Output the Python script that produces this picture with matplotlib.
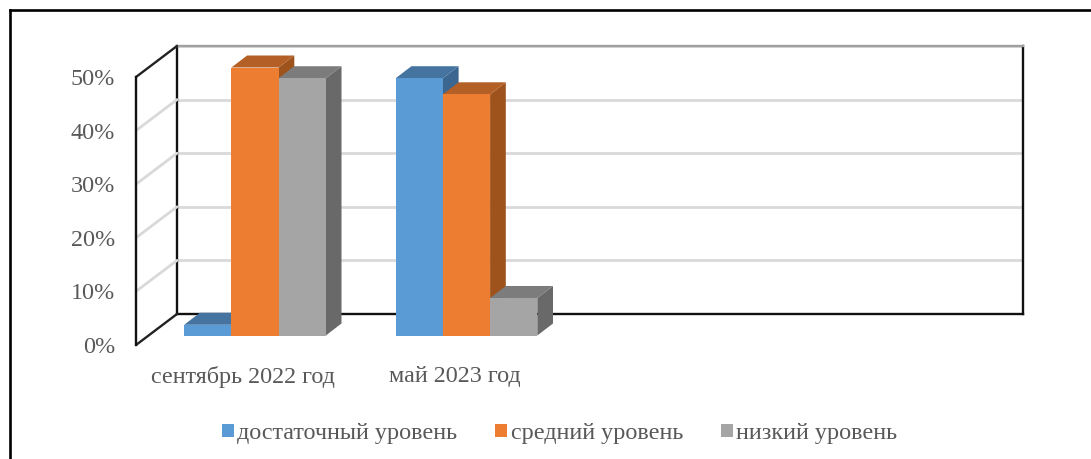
import matplotlib
matplotlib.use("Agg")
import matplotlib.pyplot as plt
from matplotlib.patches import Polygon, Patch
from matplotlib.lines import Line2D

categories = ["сентябрь 2022 год", "май 2023 год"]
series_names = ["достаточный уровень", "средний уровень", "низкий уровень"]
dostatochny = [2, 48]
sredny = [50, 45]
nizky = [48, 7]
y_ticks = [0, 10, 20, 30, 40, 50]

front_colors = ["#5B9BD5", "#ED7D31", "#A5A5A5"]
top_colors = ["#44749F", "#B45F25", "#7C7C7C"]
side_colors = ["#3A6690", "#9E521C", "#696969"]
TEXT = "#595959"

W, H = 1091, 459
plt.rcParams["font.family"] = ["Liberation Serif", "DejaVu Serif"]
fig = plt.figure(figsize=(W / 100, H / 100), dpi=100)


def make_axes(left, right, top, bottom):
    ax = fig.add_axes([left / W, 1 - bottom / H, (right - left) / W, (bottom - top) / H])
    ax.patch.set_alpha(0)
    return ax


# Outer picture frame
fig.add_artist(Line2D([10 / W, 10 / W], [0, 1 - 10 / H], color="black", lw=1.9))
fig.add_artist(Line2D([10 / W, 1], [1 - 10 / H, 1 - 10 / H], color="black", lw=1.9))

# Back wall
back = make_axes(177, 1023, 46, 314)
back.set_xlim(0, 1)
back.set_ylim(0, 50)
back.set_xticks([])
back.set_yticks(y_ticks)
back.tick_params(left=False, labelleft=False)
back.grid(axis="y", color="#D9D9D9", lw=2)
back.set_axisbelow(True)
for name in ["left", "bottom", "right"]:
    back.spines[name].set_color("#111111")
    back.spines[name].set_linewidth(1.7)
back.spines["top"].set_color("#A0A0A0")
back.spines["top"].set_linewidth(1.7)

# Side wall with the value axis on its front edge
side = make_axes(136, 177, 77, 345)
side.set_xlim(0, 1)
side.set_ylim(0, 50)
side.set_xticks([])
side.set_yticks(y_ticks)
side.set_yticklabels([f"{v}%" for v in y_ticks], fontsize=17.4, color=TEXT)
side.tick_params(axis="y", length=0, pad=15)
for name in ["top", "bottom", "right"]:
    side.spines[name].set_visible(False)
side.spines["left"].set_color("#111111")
side.spines["left"].set_linewidth(1.7)
rise = 31 / (268 / 50)
for v in y_ticks:
    edge = v in (y_ticks[0], y_ticks[-1])
    side.plot([0, 1], [v, v + rise], clip_on=False, solid_capstyle="round",
              color="#222222" if edge else "#D9D9D9", lw=1.7 if edge else 2)

# Bars
bars = make_axes(136, 1023, 67.5, 335.5)
px_per_group = 211.5
bars.set_xlim(-119 / px_per_group, (1023 - 255) / px_per_group)
bars.set_ylim(0, 50)
bars.axis("off")
bar_w = 47.2 / px_per_group
dx = 15.7 / px_per_group
dy = 12 / (268 / 50)
series = [dostatochny, sredny, nizky]
for g in range(len(categories)):
    for s, values in enumerate(series):
        v = values[g]
        x0 = g + (s - 1.5) * bar_w
        x1 = x0 + bar_w
        z = 10 * g + s
        bars.add_patch(Polygon([(x1, 0), (x1 + dx, dy), (x1 + dx, v + dy), (x1, v)],
                               fc=side_colors[s], ec="none", zorder=3 + z, clip_on=False))
        bars.add_patch(Polygon([(x0, v), (x0 + dx, v + dy), (x1 + dx, v + dy), (x1, v)],
                               fc=top_colors[s], ec="none", zorder=3 + z, clip_on=False))
        bars.bar(x0, v, width=bar_w, align="edge", color=front_colors[s], zorder=3 + z)

# Category labels
labels = make_axes(136, 1023, 67.5, 345)
labels.set_xlim(bars.get_xlim())
labels.set_ylim(0, 50)
for s in labels.spines.values():
    s.set_visible(False)
labels.set_yticks([])
label_shift = 12 / px_per_group
labels.set_xticks([g - label_shift for g in range(len(categories))])
labels.set_xticklabels(categories, fontsize=17.4, color=TEXT)
labels.tick_params(axis="x", length=0, pad=15)

# Legend
handles = [Patch(fc=c, ec="none") for c in front_colors]
fig.legend(handles, series_names, loc="center", bbox_to_anchor=(559.5 / W, 1 - 433.5 / H),
           ncol=3, frameon=False, fontsize=17.4, labelcolor=TEXT,
           handlelength=0.5, handleheight=0.5, handletextpad=0.15, columnspacing=1.55,
           borderpad=0, borderaxespad=0)

fig.savefig("out.png", dpi=100)
